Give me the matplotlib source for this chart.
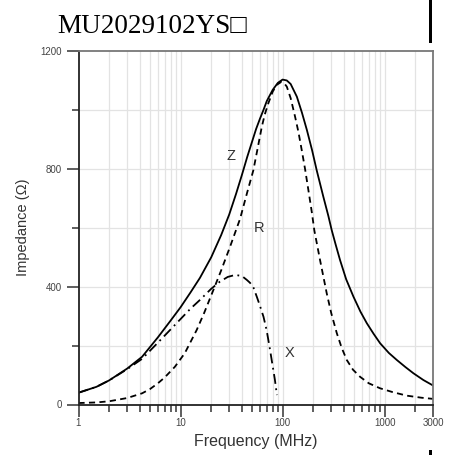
import matplotlib
matplotlib.use("Agg")
import matplotlib.pyplot as plt
from matplotlib.ticker import FixedLocator, NullFormatter, FixedFormatter
from matplotlib.patches import Rectangle

# ---- data ----
z_freq = [1, 1.5, 2, 3, 4.2, 6, 8, 10, 12.5, 15.5, 20, 25, 30, 35, 40, 45, 50, 55, 60, 65,
          70, 80, 90, 100, 110, 120, 138, 155, 173, 195, 216, 251, 281, 303, 330, 366,
          420, 495, 580, 669, 780, 903, 1100, 1318, 1600, 1916, 2400, 3000]
z_val = [40, 60, 82, 122, 162, 228, 285, 330, 380, 430, 500, 575, 645, 715, 780, 840, 890,
         935, 970, 1000, 1030, 1068, 1092, 1103, 1100, 1088, 1045, 990, 932, 862, 795, 705,
         640, 592, 545, 490, 425, 366, 315, 276, 240, 208, 175, 151, 127, 106, 83, 64]

r_freq = [1, 1.5, 2, 3, 4.2, 5, 6, 7, 8.8, 11, 14.4, 17, 21, 25, 30.6, 38.3, 45, 51.7, 57,
          62.6, 67, 72.6, 80, 87.6, 97, 104, 110, 120, 132.6, 143, 154, 166, 179, 193, 205,
          233, 271, 300, 340, 380, 426, 490, 575, 700, 903, 1200, 1652, 2300, 3000]
r_val = [5, 7, 11, 22, 38, 52, 72, 92, 128, 174, 253, 310, 389, 455, 536, 630, 720, 795, 870,
         943, 985, 1023, 1062, 1085, 1095, 1090, 1079, 1040, 977, 925, 864, 800, 728, 655, 590,
         490, 377, 310, 242, 192, 151, 118, 94, 72, 55, 42, 30, 23, 19]

x_freq = [1, 1.5, 2, 3, 4.2, 6, 8, 10, 12.5, 15.5, 20, 24.3, 29, 34.4, 40, 44.6, 48, 51.7,
          56, 60, 65, 70, 75.4, 80, 84, 88]
x_val = [40, 60, 82, 120, 155, 210, 255, 290, 325, 355, 393, 417, 433, 440, 436, 423, 413, 398,
         365, 335, 298, 250, 185, 130, 85, 32]

x_ticks = [1, 10, 100, 1000, 3000]
x_ticklabels = ["1", "10", "100", "1000", "3000"]
y_ticks = [0, 400, 800, 1200]
y_ticklabels = ["0", "400", "800", "1200"]
y_minor = [200, 600, 1000]

title_text = "MU2029102YS\u25a1"
curve_labels = [("Z", 31, 845), ("R", 59, 600), ("X", 116, 175)]

# ---- figure ----
fig = plt.figure(figsize=(4.54, 4.55), dpi=100)
ax = fig.add_axes([78.5 / 454, 50.5 / 455, (433.3 - 78.5) / 454, 353.5 / 455])

ax.set_xscale("log")
ax.set_xlim(1, 3000)
ax.set_ylim(0, 1200)

minor_x = []
for dec in [1, 10, 100, 1000]:
    for m in range(2, 10):
        v = dec * m
        if v < 3000:
            minor_x.append(v)

# grid
for v in minor_x + [10, 100, 1000]:
    ax.axvline(v, color="#e3e3e3", lw=0.9, zorder=0)
for v in [200, 400, 600, 800, 1000]:
    ax.axhline(v, color="#e3e3e3", lw=0.9, zorder=0)

ax.plot(z_freq, z_val, color="black", lw=1.3, solid_capstyle="round", solid_joinstyle="round")
ax.plot(r_freq, r_val, color="black", lw=1.3, linestyle=(0, (3.4, 2.4)))
ax.plot(x_freq, x_val, color="black", lw=1.3, linestyle=(0, (5.5, 2.5, 1, 2.5)))

for txt, fx, fy in curve_labels:
    ax.text(fx, fy, txt, fontsize=10.5, color="#333333", ha="center", va="center",
            family="Liberation Sans")

ax.xaxis.set_major_locator(FixedLocator(x_ticks))
ax.xaxis.set_major_formatter(FixedFormatter(x_ticklabels))
ax.xaxis.set_minor_locator(FixedLocator([v for v in minor_x if v != 3000]))
ax.xaxis.set_minor_formatter(NullFormatter())
ax.yaxis.set_major_locator(FixedLocator(y_ticks))
ax.yaxis.set_major_formatter(FixedFormatter(y_ticklabels))
ax.yaxis.set_minor_locator(FixedLocator(y_minor))

ax.tick_params(which="major", direction="out", length=8.3, width=1.1, color="#333333",
               labelsize=7, labelcolor="#444444")
ax.tick_params(which="minor", direction="out", length=5, width=1.1, color="#333333")
ax.tick_params(axis="x", which="major", pad=1.5)
ax.tick_params(axis="y", which="major", pad=3.5)
for lbl in ax.get_xticklabels() + ax.get_yticklabels():
    lbl.set_family("Liberation Sans")

for side in ["left", "bottom"]:
    ax.spines[side].set_color("#222222")
    ax.spines[side].set_linewidth(1.3)
for side in ["top", "right"]:
    ax.spines[side].set_color("#777777")
    ax.spines[side].set_linewidth(1.3)

ax.set_xlabel("Frequency (MHz)", fontsize=11.5, family="Liberation Sans", color="#333333",
              labelpad=4)
ax.set_ylabel("Impedance (\u03a9)", fontsize=10.5, family="Liberation Sans", color="#333333",
              labelpad=8)

fig.text(57 / 454, 1 - 33 / 455, title_text, fontsize=19.5,
         family=["Liberation Serif", "DejaVu Sans"], ha="left", va="baseline", color="black")

# decorative black bars at right edge
fig.add_artist(Rectangle((429 / 454, 1 - 43 / 455), 3 / 454, 43 / 455,
                         transform=fig.transFigure, color="black", lw=0))
fig.add_artist(Rectangle((429 / 454, 0), 3 / 454, 5 / 455,
                         transform=fig.transFigure, color="black", lw=0))

fig.savefig("out.png", dpi=100)
